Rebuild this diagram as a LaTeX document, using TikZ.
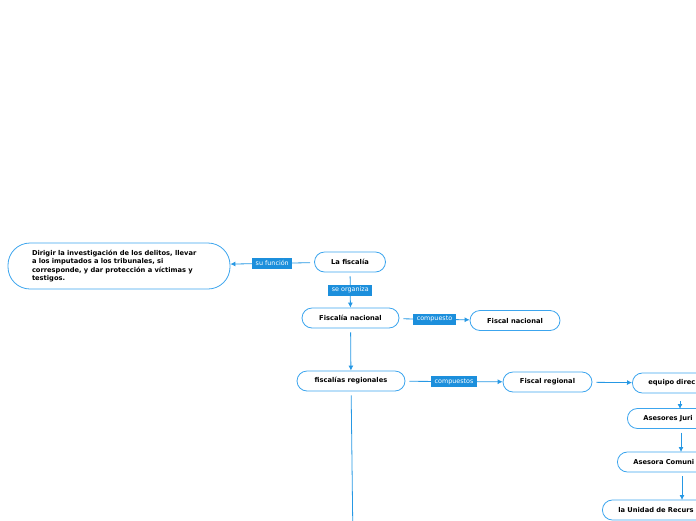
\documentclass[tikz,border=0pt]{standalone}
\usepackage{fontspec}
\newfontfamily\boxfont{DejaVu Sans}
\usetikzlibrary{arrows.meta}
\definecolor{edgeblue}{RGB}{38,152,228}
\definecolor{boxblue}{RGB}{60,165,238}
\definecolor{labblue}{RGB}{28,143,220}
\tikzset{
  box/.style={draw=boxblue, line width=0.8pt, rounded corners=10pt, fill=white,
    font=\boxfont\bfseries\fontsize{6.7}{8.6}\selectfont, minimum height=20pt, inner xsep=8pt, inner ysep=3pt},
  lab/.style={fill=labblue, text=white, font=\boxfont\fontsize{6.4}{7}\selectfont,
    inner xsep=3.5pt, inner ysep=2pt, minimum height=11pt},
  conn/.style={draw=edgeblue, line width=0.8pt, -{Latex[length=5pt,width=5pt]}, shorten <=4pt},
  plain/.style={draw=edgeblue, line width=0.8pt, shorten <=4pt}
}
\begin{document}
\begin{tikzpicture}[x=1pt,y=-1pt]
\useasboundingbox (0,0) rectangle (696,520);
\clip (0,0) rectangle (696,520);
\node[box, rounded corners=22pt, minimum height=46pt, minimum width=222pt, text width=174pt, align=left, inner xsep=0pt] (desc) at (119,266) {Dirigir la investigación de los delitos, llevar\\a los imputados a los tribunales, si\\corresponde, y dar protección a víctimas y\\testigos.};
\node[box, minimum width=71pt] (fisc) at (350,262) {La fiscalía};
\node[box, minimum width=97pt] (fnac) at (350.5,318) {Fiscalía nacional};
\node[box, minimum width=90pt] (fnacl) at (515,320.5) {Fiscal nacional};
\node[box, minimum width=108pt] (freg) at (351,381) {fiscalías regionales};
\node[box, minimum width=89pt] (fregl) at (547.5,382) {Fiscal regional};
\node[box, anchor=west, text width=90pt, align=left, inner xsep=16pt] (equipo) at (632,383) {equipo direc};
\node[box, anchor=west, text width=90pt, align=left, inner xsep=16pt] (aseso) at (627,418.5) {Asesores Juri};
\node[box, anchor=west, text width=90pt, align=left, inner xsep=16pt] (comun) at (617,462) {Asesora Comuni};
\node[box, anchor=west, text width=110pt, align=left, inner xsep=16pt] (unidad) at (602,510) {la Unidad de Recurs};
\coordinate (down) at (353,545);
\draw[conn] (fisc) -- node[lab]{su función} (desc);
\draw[conn] (fisc) -- node[lab]{se organiza} (fnac);
\draw[conn] (fnac) -- node[lab]{compuesto} (fnacl);
\draw[conn] (fnac) -- (freg);
\draw[conn] (freg) -- node[lab]{compuestos} (fregl);
\draw[conn] (fregl) -- (equipo);
\draw[conn] (680,397) -- (680,409);
\draw[conn] (681,428.5) -- (681,452);
\draw[conn] (682,472) -- (682,500);
\draw[plain] (freg) -- (down);
\end{tikzpicture}
\end{document}
